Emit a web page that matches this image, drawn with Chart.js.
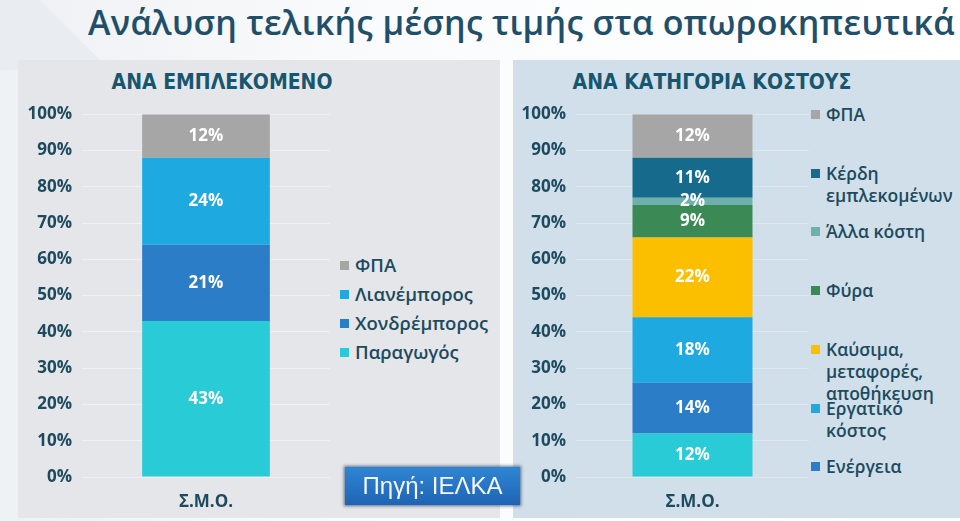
<!DOCTYPE html>
<html>
<head>
<meta charset="utf-8">
<script src="https://cdn.jsdelivr.net/npm/chart.js@4"></script>
<style>
  body { margin: 0; width: 960px; height: 521px; overflow: hidden; position: relative;
         background: linear-gradient(90deg, #eef1f4 0%, #fafbfc 40%, #ffffff 100%);
         font-family: "Open Sans", sans-serif; }
  .deco { position: absolute; left: 0; top: 0; width: 200px; height: 70px; background: #e9edf1;
          clip-path: polygon(0 0, 40px 0, 110px 70px, 0 70px); }
  .title { position: absolute; left: 88px; top: -1px; font-size: 34px; font-weight: 600;
           color: #1f4f69; white-space: nowrap; letter-spacing: 0.3px; }
  .panel { position: absolute; top: 60px; height: 458px; }
  #pLeft { left: 18px; width: 482px; background: #e4e6e9; }
  #pRight { left: 513px; width: 447px; background: #d0dfe9; }
  .head { position: absolute; top: 70px; font-family: "DejaVu Sans Condensed", "Liberation Sans Narrow", sans-serif;
          font-weight: bold; font-size: 21px; color: #17566e; white-space: nowrap; transform: translateX(-50%); }
  canvas { position: absolute; }
  .legend { position: absolute; color: #1d4a5e; font-weight: 600; line-height: 22px; }
  .legend div { position: absolute; left: 0; white-space: nowrap; padding-left: 15px; }
  .legend span { position: absolute; left: 0; top: 7px; width: 9px; height: 9px; }
  .source { position: absolute; left: 345px; top: 467px; width: 175px; height: 38px;
            background: linear-gradient(180deg, #2f86d4 0%, #1f64b4 100%);
            box-shadow: 0 0 3px 1px rgba(10,30,70,0.6); color: #f3f6fa;
            font-family: "Liberation Sans", sans-serif; font-size: 24px; line-height: 38px; text-align: center; }
</style>
</head>
<body>
<div class="deco"></div>
<div class="title">Ανάλυση τελικής μέσης τιμής στα οπωροκηπευτικά</div>
<div class="panel" id="pLeft"></div>
<div class="panel" id="pRight"></div>
<div class="head" style="left:222px">ΑΝΑ ΕΜΠΛΕΚΟΜΕΝΟ</div>
<div class="head" style="left:712px">ΑΝΑ ΚΑΤΗΓΟΡΙΑ ΚΟΣΤΟΥΣ</div>
<canvas id="left" width="310" height="413" style="left:20px; top:94px"></canvas>
<canvas id="right" width="294" height="413" style="left:515px; top:94px"></canvas>
<div class="legend" id="legLeft" style="left:340px; top:254px; font-size:18.5px"></div>
<div class="legend" id="legRight" style="left:811px; top:103px; font-size:17.5px"></div>
<div class="source">Πηγή: ΙΕΛΚΑ</div>
<script>
// ---- data ----
const categories = ['Σ.Μ.Ο.'];
const yTicks = [0, 10, 20, 30, 40, 50, 60, 70, 80, 90, 100];

// left chart, bottom to top
const actorLabels = ['Παραγωγός', 'Χονδρέμπορος', 'Λιανέμπορος', 'ΦΠΑ'];
const actorValues = [43, 21, 24, 12];
const actorColors = ['#29cbd6', '#2a7dc6', '#1ea9e1', '#a6a6a6'];

// right chart, bottom to top (first segment has no visible legend entry)
const costLabels = [
  [''],
  ['Ενέργεια'],
  ['Εργατικό', 'κόστος'],
  ['Καύσιμα,', 'μεταφορές,', 'αποθήκευση'],
  ['Φύρα'],
  ['Άλλα κόστη'],
  ['Κέρδη', 'εμπλεκομένων'],
  ['ΦΠΑ']
];
const costValues = [12, 14, 18, 22, 9, 2, 11, 12];
const costColors = ['#29cbd6', '#2a7dc6', '#1ea9e1', '#fbbf00', '#3b8a56', '#6eb1ac', '#166a8c', '#a6a6a6'];

// ---- plugin: white value labels in each segment ----
const barLabels = {
  id: 'barLabels',
  afterDatasetsDraw(chart) {
    const ctx = chart.ctx;
    ctx.save();
    ctx.font = 'bold 17px "Open Sans"';
    ctx.fillStyle = '#ffffff';
    ctx.textAlign = 'center';
    ctx.textBaseline = 'middle';
    chart.data.datasets.forEach((ds, i) => {
      chart.getDatasetMeta(i).data.forEach((bar, j) => {
        const p = bar.getProps(['x', 'y', 'base'], true);
        ctx.fillText(ds.data[j] + '%', p.x, (p.y + p.base) / 2);
      });
    });
    ctx.restore();
  }
};

function makeChart(id, labels, values, colors, axisWidth, gridColor) {
  return new Chart(document.getElementById(id), {
    type: 'bar',
    data: {
      labels: categories,
      datasets: values.map((v, i) => ({
        label: labels[i].join(' '),
        data: [v],
        backgroundColor: colors[i],
        borderWidth: 0,
        categoryPercentage: 1,
        barPercentage: 0.515
      }))
    },
    options: {
      responsive: false,
      animation: false,
      layout: { padding: { top: 15, right: 0, bottom: 0, left: 0 } },
      plugins: { legend: { display: false }, tooltip: { enabled: false } },
      scales: {
        x: {
          stacked: true,
          afterFit: (scale) => { scale.height = 30; },
          grid: { display: false },
          border: { display: false },
          ticks: { color: '#1d4a5e', font: { size: 17, weight: 'bold', family: 'Open Sans' }, padding: 7 }
        },
        y: {
          stacked: true,
          min: 0,
          max: 100,
          afterFit: (scale) => { scale.width = axisWidth; },
          afterBuildTicks: (scale) => { scale.ticks = yTicks.map(v => ({ value: v })); },
          grid: { color: gridColor, drawTicks: false },
          border: { display: false },
          ticks: {
            color: '#1d4a5e',
            font: { size: 17, weight: 'bold', family: 'Open Sans' },
            padding: 10,
            callback: (v) => v + '%'
          }
        }
      }
    },
    plugins: [barLabels]
  });
}

makeChart('left', actorLabels.map(l => [l]), actorValues, actorColors, 62, 'rgba(255,255,255,0.45)');
makeChart('right', costLabels, costValues, costColors, 61, 'rgba(255,255,255,0.3)');

// ---- HTML legends (top entry = top segment) ----
function buildLegend(id, labels, colors, spacing) {
  const box = document.getElementById(id);
  let row = 0;
  for (let i = labels.length - 1; i >= 0; i--) {
    if (!labels[i][0]) continue;
    const item = document.createElement('div');
    item.style.top = (row * spacing) + 'px';
    item.innerHTML = '<span style="background:' + colors[i] + '"></span>' + labels[i].join('<br>');
    box.appendChild(item);
    row++;
  }
}
buildLegend('legLeft', actorLabels.map(l => [l]), actorColors, 29);
buildLegend('legRight', costLabels, costColors, 58.7);
</script>
</body>
</html>
